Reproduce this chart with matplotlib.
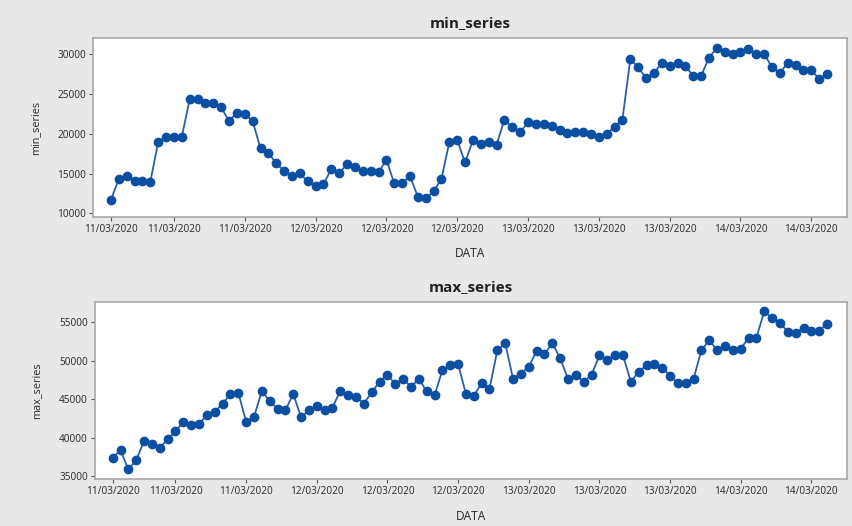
import matplotlib
matplotlib.use("Agg")
import matplotlib.pyplot as plt

plt.rcParams['font.family'] = ['Noto Sans', 'DejaVu Sans']

min_series = [11730, 14290, 14670, 14120, 14120, 13960, 18950, 19540, 19540, 19630,
              24330, 24330, 23830, 23830, 23320, 21600, 22650, 22440, 21600, 18160,
              17610, 16270, 15340, 14670, 15010, 14000, 13450, 13660, 15550, 15010,
              16220, 15850, 15380, 15380, 15170, 16730, 13750, 13750, 14670, 12070,
              11860, 12780, 14330, 18970, 19200, 16390, 19200, 18660, 18950, 18620,
              21770, 20800, 20210, 21430, 21260, 21260, 20970, 20420, 20050, 20170,
              20170, 20000, 19630, 20000, 20890, 21770, 29410, 28360, 26980, 27650,
              28910, 28530, 28910, 28530, 27270, 27270, 29580, 30800, 30250, 30080,
              30250, 30630, 30080, 30080, 28360, 27650, 28910, 28700, 27980, 27980,
              26930, 27480]

max_series = [37390, 38340, 35870, 37080, 39560, 39210, 38690, 39770, 40810, 42070,
              41600, 41770, 42980, 43330, 44420, 45670, 45850, 42070, 42680, 46060,
              44760, 43720, 43550, 45670, 42680, 43550, 44070, 43550, 43890, 46110,
              45500, 45330, 44420, 45890, 47280, 48190, 46930, 47630, 46580, 47630,
              46020, 45500, 48750, 49400, 49580, 45670, 45460, 47060, 46370, 51360,
              52310, 47630, 48320, 49230, 51270, 50840, 52310, 50320, 47630, 48150,
              47280, 48150, 50710, 50100, 50710, 50710, 47280, 48540, 49400, 49580,
              49100, 48020, 47060, 47060, 47670, 51400, 52660, 51360, 51880, 51360,
              51530, 53010, 53010, 56430, 55520, 54960, 53740, 53570, 54310, 53920,
              53920, 54830]

tick_index = [1, 9, 18, 27, 36, 45, 54, 63, 72, 81, 90]
tick_labels = ['11/03/2020', '11/03/2020', '11/03/2020', '12/03/2020', '12/03/2020',
               '12/03/2020', '13/03/2020', '13/03/2020', '13/03/2020', '14/03/2020',
               '14/03/2020']

min_yticks = [10000, 15000, 20000, 25000, 30000]
max_yticks = [35000, 40000, 45000, 50000, 55000]

BG = '#e8e8e8'
BLUE = '#0b4fa3'
LINE = '#2a5fa8'
FRAME = '#a8a8a8'

W, H = 853, 526
fig = plt.figure(figsize=(W / 100, H / 100), dpi=100, facecolor=BG)


def make_ax(left, top, right, bottom):
    return fig.add_axes([left / W, 1 - bottom / H, (right - left) / W, (bottom - top) / H])


def style(ax, values, yticks, ylim, title):
    x = list(range(1, len(values) + 1))
    ax.plot(x, values, color=LINE, lw=1.3, zorder=2)
    ax.plot(x, values, linestyle='none', marker='o', ms=6.0,
            markerfacecolor=BLUE, markeredgecolor=BLUE, zorder=3)
    ax.set_facecolor('white')
    ax.set_xlim(-1.25, 94.5)
    ax.set_ylim(*ylim)
    ax.set_xticks(tick_index)
    ax.set_xticklabels(tick_labels)
    ax.set_yticks(yticks)
    ax.set_yticklabels([str(v) for v in yticks])
    for s in ax.spines.values():
        s.set_color(FRAME)
        s.set_linewidth(1.2)
    ax.tick_params(axis='both', direction='out', length=3, width=0.8, color='#555555',
                   labelsize=7.2, labelcolor='#333333', pad=2)
    ax.set_xlabel('DATA', fontsize=8.5, color='#333333', labelpad=9)
    ax.set_ylabel(title, fontsize=7.8, color='#333333', labelpad=12)
    ax.set_title(title, fontsize=11, fontweight='bold', color='#222222', pad=8,
                 family=['Open Sans', 'DejaVu Sans'])


ax1 = make_ax(93.3, 38.3, 846.7, 216.7)
style(ax1, min_series, min_yticks, (9570, 32010), 'min_series')

ax2 = make_ax(95, 301.7, 846.7, 479.3)
style(ax2, max_series, max_yticks, (34570, 57680), 'max_series')

fig.savefig('out.png', dpi=100, facecolor=BG)
